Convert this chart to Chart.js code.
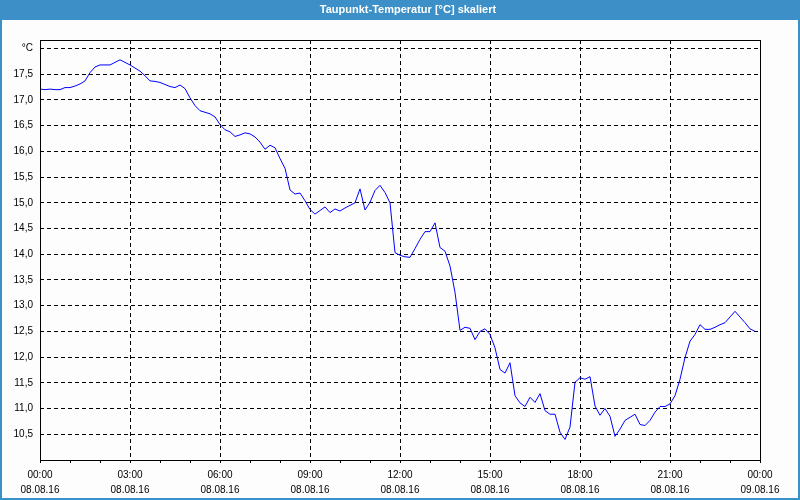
<!DOCTYPE html>
<html>
<head>
<meta charset="utf-8">
<script src="https://cdn.jsdelivr.net/npm/chart.js@4.4.0/dist/chart.umd.min.js"></script>
<style>
html,body{margin:0;padding:0;background:#fcfdfc;}
#wrap{position:relative;width:800px;height:500px;}
canvas{display:block;}
#title{position:absolute;left:0;top:0;width:800px;height:20px;box-sizing:border-box;padding-left:16px;
  text-align:center;color:#fff;font:bold 11px 'Liberation Sans', Arial, sans-serif;line-height:19px;}
</style>
</head>
<body>
<div id="wrap">
<canvas id="c" width="800" height="500"></canvas>
<div id="title"></div>
</div>
<script>
const titleText = 'Taupunkt-Temperatur [°C] skaliert';
const unitLabel = '°C';
const dayLabels = ['08.08.16', '09.08.16'];
const yMin = 10, yMax = 18.165, yStep = 0.5;

// time labels, 10-minute intervals from 00:00 (08.08.16) to 00:00 (09.08.16)
const timeLabels = [];
for (let m = 0; m <= 1440; m += 10) {
  const h = Math.floor(m / 60) % 24, mm = m % 60;
  timeLabels.push(String(h).padStart(2, '0') + ':' + String(mm).padStart(2, '0'));
}

// Taupunkt-Temperatur [°C], every 10 minutes
const dewPoint = [
  17.21, 17.20, 17.21, 17.20, 17.20, 17.24, 17.24, 17.27, 17.31, 17.37,
  17.53, 17.64, 17.68, 17.68, 17.68, 17.73, 17.78, 17.73, 17.68, 17.62,
  17.56, 17.47, 17.37, 17.36, 17.34, 17.30, 17.26, 17.24, 17.29, 17.22,
  17.04, 16.89, 16.79, 16.76, 16.73, 16.67, 16.52, 16.42, 16.38, 16.29,
  16.32, 16.36, 16.34, 16.28, 16.18, 16.04, 16.12, 16.07, 15.86, 15.67,
  15.25, 15.17, 15.19, 15.04, 14.87, 14.78, 14.85, 14.92, 14.81, 14.88,
  14.84, 14.90, 14.95, 15.00, 15.27, 14.86, 15.01, 15.24, 15.34, 15.20,
  15.00, 14.03, 13.98, 13.95, 13.94, 14.11, 14.29, 14.44, 14.44, 14.61,
  14.13, 14.06, 13.77, 13.26, 12.52, 12.58, 12.56, 12.34, 12.50, 12.55,
  12.44, 12.18, 11.76, 11.69, 11.89, 11.25, 11.11, 11.04, 11.22, 11.12,
  11.29, 10.96, 10.89, 10.89, 10.54, 10.40, 10.64, 11.51, 11.60, 11.57,
  11.62, 11.05, 10.87, 11.00, 10.85, 10.46, 10.60, 10.77, 10.83, 10.89,
  10.69, 10.67, 10.77, 10.93, 11.04, 11.04, 11.09, 11.25, 11.57, 11.99,
  12.31, 12.44, 12.63, 12.54, 12.54, 12.58, 12.63, 12.67, 12.78, 12.89,
  12.78, 12.67, 12.55, 12.50
];

document.getElementById('title').textContent = titleText;

const FONT = "'Liberation Sans', Arial, sans-serif";

const framePlugin = {
  id: 'frame',
  beforeDraw(chart) {
    const {ctx, width, height} = chart;
    ctx.save();
    ctx.fillStyle = '#fcfdfc';
    ctx.fillRect(0, 0, width, height);
    ctx.fillStyle = '#3c8fc7';
    ctx.fillRect(0, 0, width, 20);
    ctx.fillRect(0, 0, 2, height);
    ctx.fillRect(width - 2, 0, 2, height);
    ctx.fillRect(0, height - 2, width, 2);
    ctx.restore();
  },
  afterDatasetsDraw(chart) {
    const {ctx, chartArea: a} = chart;
    ctx.save();
    ctx.strokeStyle = '#000';
    ctx.lineWidth = 1;
    ctx.strokeRect(Math.round(a.left) + 0.5, Math.round(a.top) + 0.5,
                   Math.round(a.right - a.left), Math.round(a.bottom - a.top));
    ctx.restore();
  }
};

new Chart(document.getElementById('c'), {
  type: 'line',
  data: {
    labels: timeLabels,
    datasets: [{
      label: titleText,
      data: dewPoint,
      borderColor: '#0000ff',
      borderWidth: 1,
      pointRadius: 0,
      tension: 0,
      fill: false
    }]
  },
  options: {
    responsive: false,
    animation: false,
    layout: {padding: {left: 0, right: 40, top: 40, bottom: 0}},
    plugins: {
      legend: {display: false},
      tooltip: {enabled: false},
      title: {display: false}
    },
    scales: {
      x: {
        type: 'category',
        offset: false,
        afterFit(scale) { scale.height = 40; },
        border: {display: false, dash: [4, 3]},
        grid: {
          drawOnChartArea: true,
          color: ctx => (ctx.index % 18 === 0 ? '#000' : 'rgba(0,0,0,0)'),
          lineWidth: 1,
          drawTicks: true,
          tickLength: 3,
          tickColor: ctx => (ctx.index % 6 === 0 ? '#000' : 'rgba(0,0,0,0)'),
          tickBorderDash: []
        },
        ticks: {
          autoSkip: false,
          maxRotation: 0,
          minRotation: 0,
          padding: 5,
          color: '#000',
          font: {family: FONT, size: 10, lineHeight: 1.5},
          callback(val, index) {
            if (index % 18 !== 0) return '';
            return [timeLabels[index], index < 144 ? dayLabels[0] : dayLabels[1]];
          }
        }
      },
      y: {
        min: yMin,
        max: yMax,
        afterFit(scale) { scale.width = 40; },
        border: {display: false, dash: [4, 3]},
        grid: {
          color: '#000',
          lineWidth: 1,
          drawTicks: false
        },
        ticks: {
          stepSize: yStep,
          includeBounds: false,
          padding: 7,
          color: '#000',
          font: {family: FONT, size: 10},
          callback(value) {
            if (Math.abs(value - 18) < 1e-6) return unitLabel;
            if (Math.abs(value - 10) < 1e-6) return '';
            return value.toFixed(1).replace('.', ',');
          }
        }
      }
    }
  },
  plugins: [framePlugin]
});
</script>
</body>
</html>
